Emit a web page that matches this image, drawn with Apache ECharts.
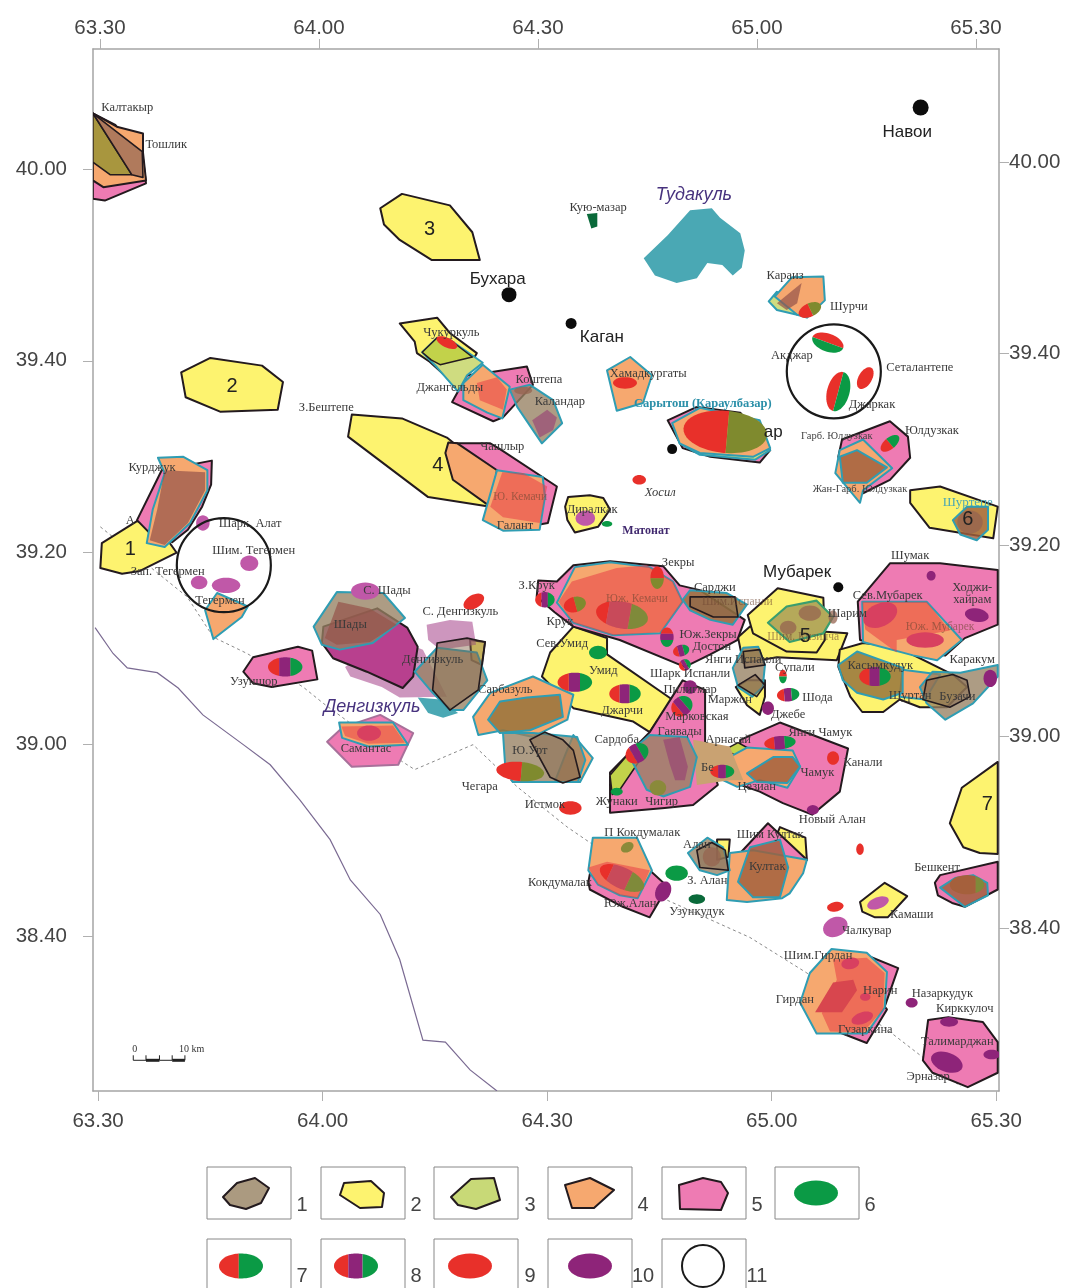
<!DOCTYPE html>
<html><head><meta charset="utf-8"><style>html,body{margin:0;padding:0;background:#fff}#c{width:1074px;height:1288px}</style>
<script src="https://cdn.jsdelivr.net/npm/echarts@6/dist/echarts.min.js"></script></head><body><div id="c"></div>
<script>
// All map values are arc-minutes: lon = minutes east of 63 deg, lat = minutes north of 38 deg.
const lonTicks=[30,60,90,120,150];
const latTicks=[40,60,80,100,120];
const stateBorder=[29.6,72.2,32.0,69.5,33.9,68.0,37.9,67.5,40.7,65.9,44.0,63.1,49.4,60.0,53.0,57.9,57.0,54.2,61.0,50.1,63.7,45.9,67.7,42.3,70.3,37.6,73.4,29.2,76.4,29.0,79.7,26.1,83.3,23.9];
const dottedBorder=[30.3,82.7,41.9,75.4,45.4,71.2,49.9,69.5,57.4,66.0,60.1,64.3,70.7,58.2,72.3,57.4,80.1,60.0,86.0,55.6,92.7,51.4,95.7,49.8,106.0,43.8,117.1,39.9,124.7,36.2,135.4,30.3,145.2,24.4];
const lakes=[
[102.9,110.7,106.1,113.1,109.1,115.7,112.0,115.9,113.1,114.9,115.8,113.3,116.4,111.5,116.0,109.7,114.8,108.9,113.4,110.0,111.4,110.2,110.0,108.6,107.3,108.1,104.4,108.9],
[72.7,64.9,75.7,64.7,78.1,63.3,76.1,62.8,74.1,63.3]];
const yellowBlack=[
[30.3,78.4,30.5,81.0,35.2,83.3,38.3,82.4,40.5,80.0,35.6,78.1,33.2,77.8],
[41.1,98.8,45.0,100.3,51.9,99.5,54.7,97.8,54.0,94.9,46.3,94.7,41.7,96.2],
[67.7,115.9,70.6,117.4,77.0,116.2,80.0,113.4,81.0,110.5,74.6,110.5,70.3,112.6,68.2,114.2],
[63.9,94.4,70.6,94.0,76.6,92.0,82.0,88.6,82.4,84.8,74.1,85.8,63.4,92.1],
[70.3,103.9,75.3,104.5,77.0,102.9,80.6,100.8,78.0,97.3,74.3,99.9,72.6,100.8,72.3,102.0],
[92.4,84.8,92.8,85.8,95.7,86.0,97.5,85.7,98.4,84.5,96.8,82.7,93.7,82.1,92.7,83.4],
[89.3,67.1,90.4,69.6,93.5,72.3,98.0,71.1,98.0,69.4,106.7,64.7,103.7,61.3,101.5,62.4,93.5,63.8],
[115.5,71.2,117.1,72.3,130.1,71.6,128.7,68.8,120.7,69.1,116.2,68.5],
[116.8,73.5,120.8,76.3,126.9,75.3,127.1,70.9,126.0,69.6,122.0,69.7,117.5,71.6],
[115.2,66.0,116.7,66.7,119.1,66.7,119.1,65.0,118.4,63.1,116.7,64.1],
[128.9,68.1,129.1,69.9,132.2,70.6,136.7,70.2,144.2,67.3,146.1,66.0,143.4,63.9,139.8,63.9,137.1,64.7,134.9,63.4,132.1,63.4,130.5,65.0],
[138.5,86.5,142.5,86.9,150.2,84.8,149.6,81.5,141.1,82.6,138.5,85.2],
[150.2,58.2,145.4,55.5,143.8,51.8,145.6,49.3,147.8,48.7,150.2,48.6],
[131.8,43.6,135.1,45.6,138.1,44.2,135.5,42.0,133.8,42.0,132.1,42.6],
[121.1,51.4,124.5,50.3,124.7,48.0,122.4,46.9,119.8,49.0],
[112.7,50.1,114.4,50.1,114.2,48.3,112.7,48.0],
[79.7,70.9,81.7,70.7,81.3,68.3,79.9,68.8]];
const pinkBlack=[
[29.3,125.8,32.3,124.6,36.0,121.1,36.4,118.5,30.9,116.7,29.3,116.9],
[35.2,83.4,38.5,88.6,45.2,89.6,45.1,87.1,43.9,84.8,42.0,82.4,39.9,81.1,36.7,82.2],
[49.4,67.6,50.7,69.1,56.7,70.2,58.6,69.8,59.3,66.8,53.2,66.0,50.7,66.4],
[77.3,95.7,79.3,98.5,82.4,98.8,87.3,99.4,88.1,97.5,84.1,94.1,82.8,93.7],
[77.4,91.4,82.4,91.4,83.7,90.8,91.3,86.9,90.1,83.1,85.0,82.4,82.4,84.8],
[88.6,75.4,88.8,77.1,91.3,77.0,93.5,78.7,98.4,79.1,105.5,78.6,107.7,76.6,110.4,76.1,116.4,73.0,115.4,70.9,111.8,69.4,108.4,68.1,99.7,70.9,93.5,72.3,91.0,73.8],
[98.4,52.9,98.4,57.1,103.7,61.3,108.1,66.7,111.1,65.7,111.1,60.0,112.8,55.8,109.5,53.7,105.7,53.4],
[115.8,60.5,121.1,62.3,130.2,59.6,129.1,55.1,125.4,52.7,121.5,53.9,118.4,55.1,115.8,55.8],
[131.5,74.9,135.8,78.9,142.5,78.9,150.2,78.2,150.2,72.5,145.8,71.1,143.2,69.3,136.5,69.9,131.8,70.9],
[128.9,90.0,129.4,91.8,135.8,93.7,138.2,92.1,138.5,89.9,135.8,87.6,132.2,86.2,129.5,87.9],
[114.8,46.2,115.8,48.7,119.5,51.8,124.7,48.0,121.5,44.9,117.5,43.8],
[95.5,45.7,96.0,47.7,103.7,46.9,106.1,45.2,103.7,42.0,100.1,43.1,95.7,44.9],
[141.8,45.6,142.5,46.4,150.2,47.8,150.2,44.9,145.8,43.1,144.1,43.5,142.2,44.3],
[128.7,37.9,132.5,38.1,136.9,36.7,135.1,32.7,135.4,32.4,132.7,28.9,129.1,30.0],
[140.2,27.1,140.9,31.3,143.6,31.6,148.2,31.1,150.2,29.0,150.2,25.8,146.2,24.3,141.5,25.8],
[106.1,93.8,110.0,95.2,115.8,94.6,119.8,90.7,118.4,89.4,111.8,90.0,108.1,90.9]];
const pinkSoft=[[60.6,60.3,62.7,61.8,67.7,63.1,72.1,61.2,70.1,57.9,63.9,57.7]];
const magentaBlack=[[59.9,70.6,60.1,72.3,67.3,74.2,71.3,72.2,72.7,70.2,72.1,67.1,70.7,65.9,65.9,67.6,61.4,69.0]];
const plumSoft=[
[63.0,68.1,68.6,71.4,73.4,69.9,76.6,65.0,70.3,64.9,67.9,66.0,63.7,67.1],
[73.9,72.5,77.0,73.0,80.0,72.8,80.5,70.4,75.7,69.9,74.1,70.9]];
const limeTeal=[
[73.3,100.9,75.3,102.4,77.0,102.2,81.4,99.8,79.3,98.5,78.1,96.8,75.3,99.3],
[119.6,106.2,120.7,107.2,122.8,105.6,123.4,104.8,120.7,105.3],
[107.7,91.4,119.8,90.7,117.8,89.7,110.4,90.2]];
const limeBlack=[
[73.3,100.9,75.3,102.4,77.0,102.2,80.0,100.4,75.7,99.6,74.5,100.1],
[113.8,59.5,115.5,60.2,116.7,59.7,115.5,58.7],
[98.4,56.8,100.7,58.9,102.4,58.4,99.7,55.3,98.7,54.8]];
const orangeBlack=[
[29.3,125.8,32.5,124.4,36.0,123.7,36.0,121.7,36.4,118.8,30.7,118.1,29.3,118.8],
[76.4,90.4,76.8,91.5,78.0,91.4,83.3,88.6,82.4,84.8,77.4,87.6]];
const orangeTeal=[
[38.0,89.9,41.4,90.0,44.6,88.6,44.6,86.5,42.3,83.1,38.9,80.6,36.5,81.0,37.3,84.5,38.9,88.3],
[44.3,74.0,45.9,75.8,50.0,74.4,49.2,73.3,45.4,71.0],
[98.0,99.0,101.1,100.4,104.0,98.5,102.8,95.6,99.3,94.8],
[120.4,106.7,122.7,108.7,126.9,108.8,127.1,106.3,124.7,104.5,123.4,104.8],
[106.7,93.5,110.4,95.1,118.4,93.8,119.8,90.9,117.5,90.0,110.4,90.4,107.7,91.4],
[81.4,83.4,83.3,88.6,89.4,87.9,89.7,85.8,89.0,82.4,84.1,82.3],
[78.8,97.7,81.4,99.6,85.0,97.3,84.0,94.0,82.0,94.6,78.8,95.9],
[80.1,62.9,82.4,65.4,88.1,67.1,93.5,65.2,92.7,62.6,88.1,60.8,84.1,61.5,80.8,61.0],
[93.5,61.0,96.1,58.6,94.4,56.1,91.0,56.1,92.4,58.9],
[91.3,74.8,93.7,78.5,98.4,79.0,103.7,78.5,106.8,77.0,108.1,74.9,105.1,71.6,98.8,71.4,93.5,72.7],
[112.0,57.7,116.7,59.7,122.8,59.4,123.8,57.7,122.1,55.5,118.4,56.3,115.4,55.6,112.7,56.6],
[132.1,74.9,140.7,74.9,145.4,70.9,142.1,68.8,138.9,69.3,132.2,70.7],
[128.5,88.3,129.1,90.7,132.2,91.8,136.1,88.8,132.2,86.5,131.8,85.2],
[114.0,43.8,114.4,48.7,117.5,49.0,124.7,48.0,124.2,46.6,122.4,44.5,121.4,44.0,116.7,43.6],
[95.5,46.9,96.1,50.3,102.0,50.3,104.0,46.9,102.1,44.0,99.7,44.3,96.8,45.4],
[123.8,33.1,125.1,36.2,128.0,38.7,132.7,38.3,135.4,36.3,135.1,32.6,132.7,29.9,126.0,29.9],
[62.2,62.3,69.4,62.3,71.4,60.0,66.1,59.8,62.6,60.7],
[137.5,67.8,142.5,67.3,140.5,64.7,137.1,65.0]];
const salmonAreas=[
[82.4,84.8,84.0,88.4,86.8,88.3,90.0,86.9,89.0,83.1,84.1,83.7],
[80.6,97.7,83.3,98.3,84.6,97.0,84.1,94.9,81.0,95.9],
[91.5,74.9,93.3,77.0,99.3,78.4,103.3,78.7,106.8,77.0,108.1,74.9,105.1,71.7,98.8,71.4,93.5,72.7],
[132.1,74.9,140.7,74.9,143.8,71.9,136.7,70.9,136.7,69.6,132.5,72.0],
[95.5,47.2,98.0,47.8,103.7,46.9,102.1,44.0,99.7,44.3,96.8,45.4],
[128.2,37.6,132.7,37.8,135.1,36.2,134.9,32.4,132.2,30.0,127.8,30.1,126.7,32.0,128.7,35.5],
[62.5,61.9,69.4,62.0,71.0,60.2,66.1,60.1,63.0,60.9]];
const brownTeal=[
[86.0,95.2,85.0,97.0,87.7,97.5,90.8,95.9,92.0,93.5,89.3,91.4],
[58.8,72.3,61.9,75.9,68.1,75.8,71.0,73.2,66.7,70.6,62.3,69.9,59.9,70.4],
[72.3,67.6,75.3,70.1,80.6,69.6,82.0,66.7,78.8,63.6,77.0,63.6,74.7,65.4],
[84.1,61.2,88.1,61.2,94.0,60.8,95.1,58.4,94.1,56.1,85.4,56.1,84.4,57.7],
[114.8,68.0,116.2,70.1,118.2,70.2,119.1,68.3,118.8,66.0,117.4,65.0,115.5,66.0],
[100.8,59.1,103.7,61.0,108.7,60.8,110.0,58.7,109.1,55.6,105.5,54.6,103.3,55.3],
[139.8,66.0,141.5,67.6,145.2,67.5,150.2,68.3,150.2,67.1,146.9,64.3,143.2,62.6,140.7,64.3],
[108.8,48.7,111.4,50.3,113.5,49.3,114.4,46.9,112.7,46.4,110.4,46.9]];
const oliveBrownTeal=[
[82.1,62.6,83.7,64.5,87.3,64.9,91.7,65.2,92.1,62.9,87.7,61.5,83.7,61.2],
[108.1,75.1,109.1,76.1,114.0,75.8,116.7,74.6,114.8,72.5,111.8,73.0,109.1,74.0],
[128.9,68.3,131.4,69.7,137.5,68.0,137.5,65.4,134.9,64.7,131.4,65.4,129.5,66.7]];
const deepBrownTeal=[
[144.2,83.4,146.1,84.8,148.9,84.8,148.9,82.4,147.4,81.3,145.2,81.9],
[115.5,45.7,117.1,49.3,121.1,50.1,122.2,47.2,121.1,44.1,117.5,44.1],
[116.7,57.0,120.2,58.7,122.8,58.7,123.8,57.7,122.1,56.0,118.0,56.1],
[142.5,45.1,144.5,46.1,146.9,46.4,148.8,45.6,148.9,44.3,145.8,43.1],
[129.1,90.0,131.4,90.7,135.4,88.9,132.7,87.3,129.5,87.3]];
const tanAreas=[[109.5,60.5,114.4,59.8,116.2,56.3,114.4,56.3,110.0,55.8]];
const oliveBlack=[[29.3,125.8,34.5,119.4,31.6,119.4,29.3,120.7]];
const rosyBlack=[[29.3,125.8,35.9,121.8,36.0,119.1,34.5,119.4]];
const brownBlack=[
[87.7,60.5,89.7,61.3,92.1,60.5,93.5,59.4,94.4,56.6,92.1,56.0,90.4,56.6],
[109.1,75.4,115.1,75.4,115.5,73.3,112.2,73.3,109.1,74.4],
[116.2,69.7,118.4,69.9,119.1,68.3,116.4,68.0],
[115.5,66.2,117.8,67.3,119.1,66.2,118.0,65.0],
[140.7,66.7,144.2,67.3,146.1,66.7,146.5,65.0,143.8,63.9,140.2,64.7],
[75.3,70.6,79.3,71.1,81.7,70.7,80.8,65.7,77.0,63.6,74.7,65.7],
[110.0,49.0,112.0,49.8,113.8,49.0,114.2,46.9,110.4,47.2]];
const rosyAreas=[
[38.9,88.6,44.3,88.4,44.3,86.5,42.0,83.1,38.9,80.8,36.9,81.3,37.9,84.5],
[60.3,71.1,62.1,74.9,66.3,74.2,69.9,72.5,66.3,70.7,61.9,70.4],
[120.7,106.0,124.0,108.1,123.4,106.0,122.0,105.3]];
const plumBlobs=[
[88.0,93.8,90.0,94.9,91.3,94.1,90.8,92.8,89.0,92.0],
[105.5,60.5,107.7,60.8,108.8,57.7,108.4,56.3,107.1,56.3,106.4,57.9]];
const crimsonAreas=[[125.8,32.1,128.2,35.2,130.9,35.5,131.4,34.4,129.4,32.1]];
const mubarekField=[[119.5,72.7,122.0,74.4,126.0,75.0,128.2,73.3,126.9,71.6,122.4,70.7]];
const darkGreenAreas=[[95.3,115.3,96.7,115.4,96.7,114.0,95.9,113.8]];
// ellipses: lon, lat, half-width (lon min), half-height (lat min), tilt degrees
const ellRedOlive=[[113.8,92.6,5.6,2.2,5],[86.4,57.2,3.2,1.0,5],[93.7,74.6,1.5,.8,-15],[104.7,77.4,1.5,.7,90],[125.1,105.3,1.6,.7,-25]];
const ellRedGreen=[[127.5,101.9,1.2,1.7,110],[128.9,96.8,1.5,2.1,15],[135.8,91.4,1.5,.6,-40],[121.5,67.1,.9,.4,90]];
const ellRedPurpleGreen=[[55.0,68.1,2.3,1.0,0],[93.7,66.5,2.3,1.0,0],[100.4,65.3,2.1,1.0,0],[106.0,71.2,1.3,.7,90],[107.9,69.8,1.1,.6,-15],[108.0,64.0,1.5,1.0,-40],[122.2,65.2,1.5,.7,-5],[89.7,75.1,1.3,.8,0],[102.0,59.1,1.6,1.0,-30],[121.1,60.2,2.1,.7,-5],[108.4,68.3,.8,.6,-30],[113.4,57.2,1.6,.7,0],[133.8,67.1,2.1,1.0,0]];
const ellRedRoseOlive=[[100.0,73.5,3.5,1.4,10],[100.0,46.1,3.2,1.1,25]];
const ellBrownGreen=[[146.1,45.4,2.3,1.0,0]];
const ellRed=[[76.6,101.9,1.5,.5,25],[100.4,97.7,1.6,.6,0],[102.3,87.6,.9,.5,0],[132.5,98.2,1.6,.7,-60],[80.2,74.9,1.5,.7,-30],[93.1,53.4,1.5,.7,0],[128.2,58.6,.8,.7,0],[131.8,49.1,.5,.6,0],[128.5,43.1,1.1,.5,-10]];
const ellCrimson=[[134.5,73.5,2.4,1.2,-25],[140.5,70.9,2.5,.8,0],[66.2,61.2,1.6,.8,0],[132.1,31.5,1.5,.6,-20],[130.5,37.2,1.2,.6,-10],[132.5,33.7,.7,.4,0]];
const ellPurple=[[109.1,66.0,.9,.7,0],[119.5,63.8,.8,.7,0],[125.5,53.2,.8,.5,0],[105.5,44.7,1.0,1.1,25],[147.4,73.5,1.6,.7,10],[141.3,77.6,.6,.5,0],[138.7,33.1,.8,.5,0],[143.7,31.1,1.2,.5,0],[143.4,26.9,2.2,1.0,20],[149.4,27.7,1.1,.5,0],[149.2,66.9,.9,.9,0]];
const ellOrchid=[[50.2,78.9,1.2,.8,0],[47.1,76.6,1.9,.8,0],[43.5,76.9,1.1,.7,0],[44.0,83.1,.9,.8,0],[95.1,83.6,1.3,.8,0],[128.5,41.0,1.7,1.0,-25],[134.2,43.5,1.5,.6,-20],[65.7,76.0,1.9,.9,0]];
const ellGreen=[[96.8,69.6,1.2,.7,0],[107.3,46.6,1.5,.8,0],[99.3,55.1,.8,.4,0],[98.0,83.0,.7,.3,0]];
const ellDarkGreen=[[110.0,43.9,1.1,.5,0]];
const ellOlive=[[100.7,49.3,.9,.5,-30],[104.8,55.5,1.1,.8,0]];
const ellBrownBlob=[[125.1,73.7,1.5,.8,0],[122.2,72.2,1.1,.7,0],[128.2,73.3,.6,.7,0],[146.5,83.2,1.7,1.2,0],[112.0,48.3,1.2,1.0,0],[86.8,96.9,1.2,.4,0]];
const circleCentres=[[128.3,98.9],[46.8,78.7]];
const circleRadiusLat=4.9;
const cityDots=[[139.9,126.4],[84.9,106.9],[93.2,103.9],[128.9,76.4],[106.7,90.8]];
const cityDotSizes=[16,15,11,10,10];
const scaleStops=[34.7,36.4,38.2,39.9,41.6];
const scaleLat=27.1;
const fieldLabels=[["Калтакыр",33.9,126.4],["Тошлик",39.1,122.5],["Кую-мазар",96.8,116.0],["Караиз",121.8,108.9],["Шурчи",130.3,105.6],["Акджар",122.7,100.5],["Сеталантепе",139.8,99.3],["Джаркак",133.4,95.4],["Чукуркуль",77.2,102.9],["Коштепа",88.9,98.0],["Джангельды",77.0,97.2],["Каландар",91.7,95.7],["З.Бештепе",60.5,95.1],["Чашлыр",84.0,91.1],["Хамадкургаты",103.5,98.7],["Юлдузкак",141.4,92.7],["Диралкак",96.0,84.5],["Галант",85.7,82.8],["Курджук",37.2,88.9],["А",34.3,83.3],["Шарк. Алат",50.3,83.0],["Шим. Тегермен",50.8,80.2],["Зап. Тегермен",39.3,78.0],["Тегермен",46.3,75.0],["С. Шады",68.6,76.0],["Шады",63.7,72.5],["С. Денгизкуль",78.4,73.9],["Денгизкуль",74.7,68.9],["Узуншор",50.8,66.6],["Самантас",65.8,59.6],["Сарбазуль",84.4,65.7],["Ю.Урт",87.7,59.4],["Чегара",81.0,55.6],["Истмок",89.7,53.7],["Зекры",107.5,79.0],["З.Крук",88.6,76.6],["Сарджи",112.4,76.4],["Крук",91.7,72.8],["Сев.Умид",92.0,70.5],["Умид",97.5,67.7],["Джарчи",100.0,63.5],["Юж.Зекры",111.5,71.5],["Достон",112.0,70.2],["Янги Испанли",116.2,68.9],["Шарк Испанли",109.1,67.4],["Пилигмар",109.1,65.7],["Маржон",114.4,64.7],["Марковская",110.0,62.9],["Гаявады",107.7,61.3],["Супали",123.1,68.0],["Шода",126.1,64.9],["Джебе",122.2,63.1],["Сардоба",99.3,60.5],["Арнасай",114.2,60.5],["Бе",111.4,57.6],["Янги Чамук",126.5,61.2],["Чамук",126.1,57.1],["Канали",132.2,58.1],["Жунаки",99.3,54.0],["Чигир",105.3,54.0],["Цезиан",118.0,55.6],["Новый Алан",128.1,52.2],["П Кокдумалак",102.7,50.8],["Кокдумалак",91.7,45.6],["Юж.Алан",101.1,43.4],["З. Алан",111.4,45.8],["Алан",110.0,49.6],["Шим Култак",119.8,50.6],["Култак",119.4,47.3],["Узункудук",110.0,42.6],["Бешкент",142.1,47.2],["Камаши",138.7,42.3],["Чалкувар",132.7,40.6],["Шим.Гирдан",126.2,38.0],["Гирдан",123.1,33.4],["Нарин",134.5,34.3],["Гузаркина",132.5,30.3],["Назаркудук",142.8,34.0],["Кирккулоч",145.8,32.5],["Талимарджан",144.8,29.0],["Эрназар",140.9,25.4],["Шумак",138.5,79.7],["Ходжи-",146.8,76.4],["хайрам",146.8,75.1],["Сев.Мубарек",135.5,75.5],["Каракум",146.8,68.8],["Касымкудук",134.5,68.2],["Шуртан",138.5,65.1],["Бузачи",144.8,65.0],["Шарим",130.1,73.6]];
const smallLabels=[["Гарб. Юлдузкак",128.7,92.1],["Жан-Гарб. Юлдузкак",131.8,86.6]];
const dimLabels=[["Ю. Кемачи",86.4,85.8],["Юж. Кемачи",102.0,75.2],["Шим.Испанли",115.4,74.9],["Юж. Мубарек",142.5,72.3],["Шим. Кизилча",124.2,71.2]];
const tealLabels=[["Шуртепе",146.2,85.2]];
const boldTealLabels=[["Сарытош (Караулбазар)",110.8,95.5]];
const purpleLabels=[["Матонат",103.2,82.3]];
const italicLabels=[["Хосил",105.1,86.3]];
const cityLabels=[["Бухара",83.4,108.5],["Каган",97.3,102.4],["Навои",138.1,123.8],["Мубарек",123.4,78.0],["ар",120.2,92.6]];
const lakeLabels=[["Денгизкуль",66.6,63.9],["Тудакуль",109.6,117.3]];
const areaNumbers=[["1",34.3,80.3],["2",47.9,97.3],["3",74.3,113.7],["4",75.4,89.1],["5",124.5,71.3],["6",146.2,83.5],["7",148.8,53.8]];
const scaleLabels=[["0",34.9,28.2],["10 km",42.5,28.2]];
const legendNumbers=["1","2","3","4","5","6","7","8","9","10","11"];

const BLACK='#231a1e',TEAL='#2f9db3';
const RED='#e8302a',GREEN='#0b9a45',PURPLE='#8e2479';
function pairs(f){const r=[];for(let i=0;i<f.length;i+=2)r.push([f[i],f[i+1]]);return r;}
let zc=1;
function polySeries(list,fill,stroke,width){
  const z=zc++;
  return {type:'custom',coordinateSystem:'cartesian2d',clip:true,silent:true,z,animation:false,
    data:list.map(p=>[p[0],p[1]]),
    renderItem(params,api){
      const pts=pairs(list[params.dataIndex]).map(q=>api.coord(q));
      return {type:'polygon',shape:{points:pts},style:{fill,stroke:stroke||'none',lineWidth:width||0,lineJoin:'round'}};
    }};
}
function linePts(f,color,width,dash){
  const z=zc++;
  return {type:'custom',coordinateSystem:'cartesian2d',clip:true,silent:true,z,animation:false,
    data:[[f[0],f[1]]],
    renderItem(params,api){
      return {type:'polyline',shape:{points:pairs(f).map(q=>api.coord(q))},style:{fill:'none',stroke:color,lineWidth:width,lineDash:dash||null}};
    }};
}
function ellPts(cx,cy,rx,ry,rot,u1,u2){
  const pts=[],n=16,c=Math.cos(rot*Math.PI/180),s=Math.sin(rot*Math.PI/180);
  const add=(u,sign)=>{const x=u*rx,y=sign*ry*Math.sqrt(Math.max(0,1-u*u));pts.push([cx+c*x-s*y,cy+s*x+c*y]);};
  for(let i=0;i<=n;i++)add(u1+(u2-u1)*(1-Math.cos(Math.PI*i/n))/2,-1);
  for(let i=n;i>=0;i--)add(u1+(u2-u1)*(1-Math.cos(Math.PI*i/n))/2,1);
  return pts;
}
function ellSeries(list,colors,breaks){
  const z=zc++;
  return {type:'custom',coordinateSystem:'cartesian2d',clip:true,silent:true,z,animation:false,
    data:list.map(e=>[e[0],e[1]]),
    renderItem(params,api){
      const e=list[params.dataIndex],c=api.coord([e[0],e[1]]),sz=api.size([e[2],e[3]]);
      return {type:'group',children:colors.map((col,i)=>({type:'polygon',
        shape:{points:ellPts(c[0],c[1],sz[0],sz[1],e[4],breaks[i],breaks[i+1])},style:{fill:col}}))};
    }};
}
function textSeries(rows,font,fill){
  return {type:'custom',coordinateSystem:'cartesian2d',clip:false,silent:true,z:500,animation:false,
    data:rows.map(r=>[r[1],r[2]]),
    renderItem(params,api){
      const r=rows[params.dataIndex],c=api.coord([r[1],r[2]]);
      return {type:'text',x:c[0],y:c[1],style:{text:r[0],font,fill,align:'center',verticalAlign:'middle'}};
    }};
}
const SERIF='"Liberation Serif"',SANS='"Liberation Sans"';
const series=[
  linePts(stateBorder,'#7a6a92',1.2),
  linePts(dottedBorder,'#8a8a8a',1,[3,3]),
  polySeries(lakes,'#4aa8b4'),
  polySeries(yellowBlack,'#fdf36f',BLACK,2),
  polySeries(pinkBlack,'#ee7bb3',BLACK,2),
  polySeries(pinkSoft,'#ee7bb3','#a8709a',2),
  polySeries(plumSoft,'rgba(175,85,150,.62)'),
  polySeries(magentaBlack,'#b8408e',BLACK,2),
  polySeries(limeTeal,'#cfdc80',TEAL,2),
  polySeries(limeBlack,'#c2d24a',BLACK,1.5),
  polySeries(orangeBlack,'#f6a86f',BLACK,2),
  polySeries(orangeTeal,'#f6a86f',TEAL,2),
  polySeries(salmonAreas,'rgba(232,60,70,.55)'),
  polySeries(tanAreas,'#c9a272'),
  polySeries(brownTeal,'rgba(150,128,98,.78)',TEAL,2),
  polySeries(oliveBrownTeal,'rgba(150,115,60,.85)',TEAL,2),
  polySeries(deepBrownTeal,'rgba(160,95,60,.82)',TEAL,2),
  polySeries(oliveBlack,'#a8963e',BLACK,1.6),
  polySeries(rosyBlack,'#b07a5c',BLACK,1.6),
  polySeries(brownBlack,'rgba(130,100,70,.45)',BLACK,1.6),
  polySeries(rosyAreas,'rgba(150,85,75,.72)'),
  polySeries(plumBlobs,'rgba(150,60,115,.6)'),
  polySeries(crimsonAreas,'#d8464e'),
  polySeries(mubarekField,'#b5a95a','#3a9e6e',2.2),
  polySeries(darkGreenAreas,'#0a6a3a'),
  ellSeries(ellBrownBlob,['rgba(150,100,80,.75)'],[-1,1]),
  ellSeries(ellRedOlive,[RED,'#7f8a2e'],[-1,.05,1]),
  ellSeries(ellRedGreen,[RED,GREEN],[-1,0,1]),
  ellSeries(ellRedPurpleGreen,[RED,PURPLE,GREEN],[-1,-.35,.3,1]),
  ellSeries(ellRedRoseOlive,[RED,'#c84a5a','#7f8a3a'],[-1,-.55,.3,1]),
  ellSeries(ellBrownGreen,['#a5603c','#7f8a3a'],[-1,.5,1]),
  ellSeries(ellRed,[RED],[-1,1]),
  ellSeries(ellCrimson,['#d84060'],[-1,1]),
  ellSeries(ellPurple,[PURPLE],[-1,1]),
  ellSeries(ellOrchid,['#c058a8'],[-1,1]),
  ellSeries(ellGreen,[GREEN],[-1,1]),
  ellSeries(ellDarkGreen,['#0a6a3a'],[-1,1]),
  ellSeries(ellOlive,['#8a8a3a'],[-1,1]),
  {type:'custom',coordinateSystem:'cartesian2d',clip:true,silent:true,z:zc++,animation:false,data:circleCentres,
   renderItem(p,api){const c=api.coord(circleCentres[p.dataIndex]),r=api.size([0,circleRadiusLat])[1];
     return {type:'circle',shape:{cx:c[0],cy:c[1],r},style:{fill:'none',stroke:'#1a1a1a',lineWidth:2.2}};}},
  {type:'scatter',data:cityDots,symbol:'circle',symbolSize:(v,p)=>cityDotSizes[p.dataIndex],itemStyle:{color:'#0c0c0c',opacity:1},z:zc++,silent:true,animation:false},
  {type:'custom',coordinateSystem:'cartesian2d',clip:false,silent:true,z:zc++,animation:false,data:[[scaleStops[0],scaleLat]],
   renderItem(p,api){
     const kids=[];
     scaleStops.forEach((x,i)=>{
       const a=api.coord([x,scaleLat]);
       kids.push({type:'line',shape:{x1:a[0],y1:a[1]-5,x2:a[0],y2:a[1]},style:{stroke:'#222',lineWidth:1}});
       if(i<scaleStops.length-1){const b=api.coord([scaleStops[i+1],scaleLat]);
         kids.push({type:'line',shape:{x1:a[0],y1:a[1],x2:b[0],y2:b[1]},style:{stroke:'#222',lineWidth:i%2?3:1}});}
     });
     return {type:'group',children:kids};}},
  textSeries(fieldLabels,'12.5px '+SERIF,'#3a3a3a'),
  textSeries(smallLabels,'10.5px '+SERIF,'#444'),
  textSeries(dimLabels,'11.5px '+SERIF,'rgba(110,70,50,.6)'),
  textSeries(tealLabels,'13px '+SERIF,'#4aa6b4'),
  textSeries(boldTealLabels,'bold 12.5px '+SERIF,'#2a8fa8'),
  textSeries(purpleLabels,'bold 12px '+SERIF,'#40286e'),
  textSeries(italicLabels,'italic 12.5px '+SERIF,'#3a3a3a'),
  textSeries(cityLabels,'17px '+SANS,'#222'),
  textSeries(lakeLabels,'italic 18px '+SANS,'#47327e'),
  textSeries(areaNumbers,'20px '+SANS,'#222'),
  textSeries(scaleLabels,'10px '+SERIF,'#333')
];
const lonFmt=v=>(63+Math.floor(v/60))+'.'+String(v%60).padStart(2,'0');
const latFmt=v=>(38+Math.floor(v/60))+'.'+String(v%60).padStart(2,'0');
const lineSt={show:true,onZero:false,lineStyle:{color:'#a5a5a5',width:1.5}};
const tick=vals=>({show:true,length:10,customValues:vals,lineStyle:{color:'#b0b0b0',width:1}});
const lab=(vals,fmt,m)=>({show:true,customValues:vals,formatter:fmt,margin:m,color:'#444',fontFamily:'Liberation Sans',fontSize:20.5});
// legend
const box=(x,y)=>({type:'rect',shape:{x,y,width:84,height:52},style:{fill:'#fff',stroke:'#888',lineWidth:1}});
const poly=(points,fill)=>({type:'polygon',shape:{points},style:{fill,stroke:BLACK,lineWidth:2,lineJoin:'round'}});
const ellG=(cx,cy,colors,breaks)=>colors.map((c,i)=>({type:'polygon',shape:{points:ellPts(cx,cy,22,12.5,0,breaks[i],breaks[i+1])},style:{fill:c}}));
const rowX=[207,321,434,548,662,775],y1=1167,y2=1239;
const legendEls=[];
rowX.forEach(x=>legendEls.push(box(x,y1)));
rowX.slice(0,5).forEach(x=>legendEls.push(box(x,y2)));
legendEls.push(
 poly([[223,1197],[237,1183],[255,1178],[269,1188],[261,1203],[246,1209],[230,1205]],'#ab9a80'),
 poly([[340,1195],[344,1183],[371,1181],[384,1193],[382,1207],[360,1208]],'#fdf36f'),
 poly([[451,1197],[471,1179],[494,1178],[500,1200],[476,1209],[458,1205]],'#c8d977'),
 poly([[565,1185],[590,1178],[614,1190],[594,1208],[572,1208]],'#f6a86f'),
 poly([[679,1185],[703,1178],[721,1182],[728,1193],[721,1210],[680,1209]],'#ee7bb3'),
 ...ellG(816,1193,[GREEN],[-1,1]),
 ...ellG(241,1266,[RED,GREEN],[-1,-.1,1]),
 ...ellG(356,1266,[RED,PURPLE,GREEN],[-1,-.35,.3,1]),
 ...ellG(470,1266,[RED],[-1,1]),
 ...ellG(590,1266,[PURPLE],[-1,1]),
 {type:'circle',shape:{cx:703,cy:1266,r:21},style:{fill:'#fff',stroke:'#1a1a1a',lineWidth:2}}
);
const numX=[302,416,530,643,757,870,302,416,530,643,757];
legendNumbers.forEach((t,i)=>legendEls.push({type:'text',x:numX[i],y:i<6?1205:1276,
  style:{text:t,font:'20px '+SANS,fill:'#444',align:'center',verticalAlign:'middle'}}));

const chart=echarts.init(document.getElementById('c'),null,{renderer:'canvas'});
chart.setOption({
  animation:false,backgroundColor:'#fff',
  grid:{left:93,top:49,width:906,height:1042,containLabel:false},
  xAxis:[
    {type:'value',position:'bottom',min:29.32,max:150.37,axisLine:lineSt,splitLine:{show:false},axisTick:tick(lonTicks),axisLabel:lab(lonTicks,lonFmt,20)},
    {type:'value',position:'top',min:29.04,max:153.15,axisLine:lineSt,splitLine:{show:false},axisTick:tick(lonTicks),axisLabel:lab(lonTicks,lonFmt,10)}
  ],
  yAxis:[
    {type:'value',position:'left',min:23.9,max:132.5,axisLine:lineSt,splitLine:{show:false},axisTick:tick(latTicks),axisLabel:lab(latTicks,latFmt,26)},
    {type:'value',position:'right',min:23.0,max:131.8,axisLine:lineSt,splitLine:{show:false},axisTick:tick(latTicks),axisLabel:lab(latTicks,latFmt,10)}
  ],
  series,
  graphic:{elements:legendEls}
});
</script></body></html>
